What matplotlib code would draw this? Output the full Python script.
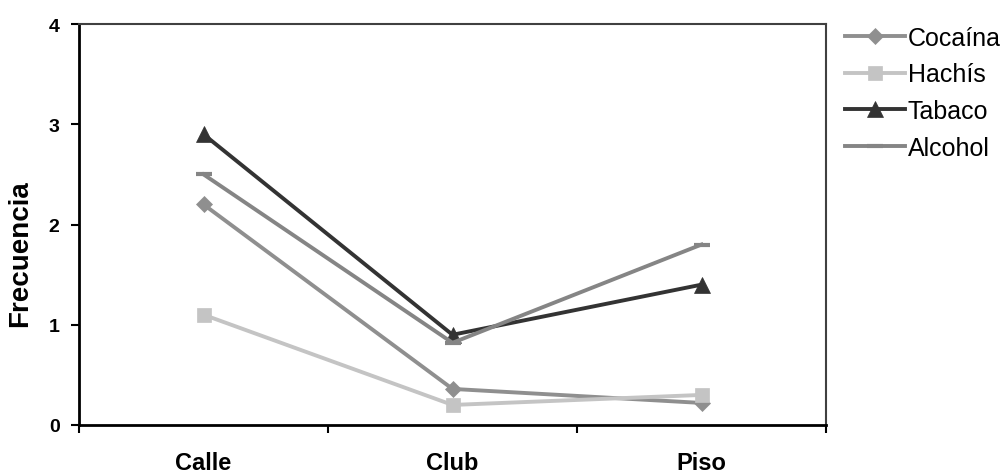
import matplotlib.pyplot as plt

plt.rcParams['font.family'] = ['Liberation Sans', 'DejaVu Sans']

# Data
lugares = ["Calle", "Club", "Piso"]
cocaina = [2.2, 0.36, 0.22]
hachis = [1.1, 0.2, 0.3]
tabaco = [2.9, 0.9, 1.4]
alcohol = [2.5, 0.82, 1.8]

series = [
    ("Cocaína", cocaina, "#8f8f8f", "D", 8),
    ("Hachís", hachis, "#c4c4c4", "s", 10),
    ("Tabaco", tabaco, "#333333", "^", 12),
    ("Alcohol", alcohol, "#858585", "_", 11),
]

fig = plt.figure(figsize=(10.08, 4.77), dpi=100)
ax = fig.add_axes([79 / 1008, 51 / 477, 747 / 1008, 401 / 477])

x = range(len(lugares))
for name, vals, color, marker, ms in series:
    ax.plot(x, vals, color=color, lw=2.8, marker=marker, markersize=ms,
            markeredgewidth=3 if marker == "_" else 0.5, markeredgecolor=color,
            label=name)

ax.set_xlim(-0.5, 2.5)
ax.set_ylim(0, 4)
ax.set_yticks([0, 1, 2, 3, 4])
ax.set_xticks([-0.5, 0.5, 1.5, 2.5])
ax.set_xticklabels([])
ax.set_xticks(list(x), minor=True)
ax.set_xticklabels(lugares, minor=True, fontsize=17, fontweight="bold")
ax.tick_params(axis="x", which="minor", length=0, pad=19)
ax.tick_params(axis="x", which="major", length=6, width=1.5, direction="out")
ax.tick_params(axis="y", length=6, width=1.5, direction="out", labelsize=14, pad=8)
for lab in ax.get_yticklabels():
    lab.set_fontweight("bold")

ax.spines["left"].set_linewidth(2)
ax.spines["bottom"].set_linewidth(2)
ax.spines["left"].set_color("black")
ax.spines["bottom"].set_color("black")
ax.spines["top"].set_color("#404040")
ax.spines["right"].set_color("#404040")
ax.spines["top"].set_linewidth(1.5)
ax.spines["right"].set_linewidth(1.5)

ax.set_ylabel("Frecuencia", fontsize=20, fontweight="bold")
ax.yaxis.set_label_coords(-0.062, 0.43)

fig.legend(loc="upper left", bbox_to_anchor=(845 / 1008, 450 / 477),
           frameon=False, fontsize=18, handlelength=2.4, handletextpad=0.12,
           labelspacing=0.5, borderaxespad=0, borderpad=0)

fig.savefig("out.png", dpi=100)
